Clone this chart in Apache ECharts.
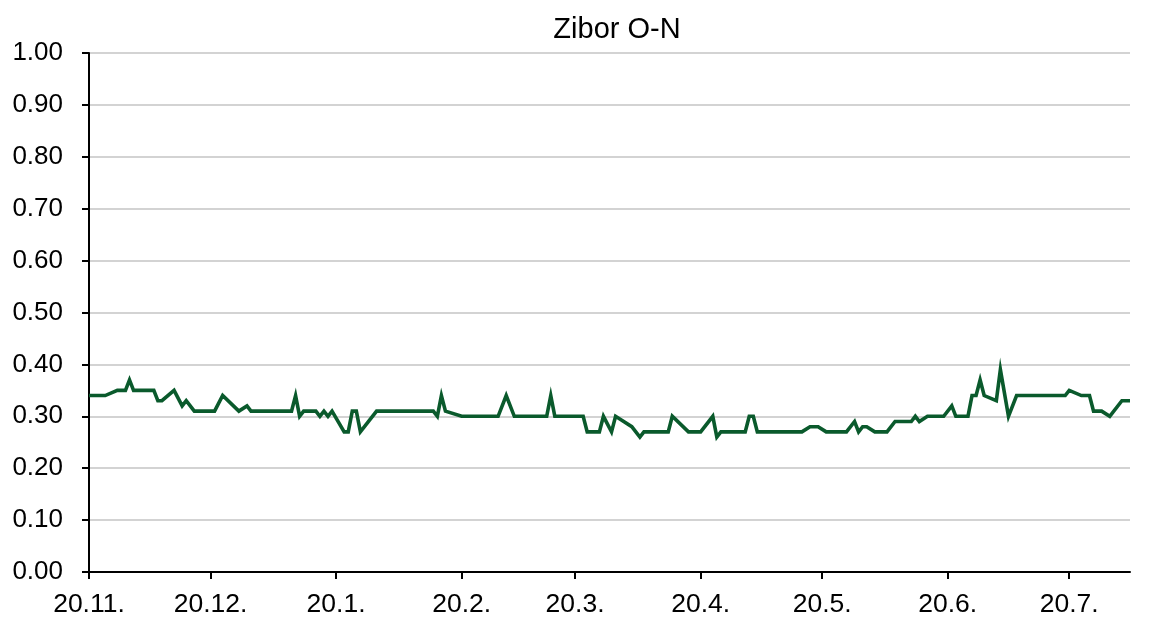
<!DOCTYPE html>
<html><head><meta charset="utf-8">
<script src="https://cdn.jsdelivr.net/npm/echarts@6/dist/echarts.min.js"></script>
<style>html,body{margin:0;padding:0;background:#fff}#c{width:1150px;height:623px}</style>
</head><body><div id="c"></div>
<script>
const chartTitle = 'Zibor O-N';
const dates = [
'2018-11-20','2018-11-24','2018-11-27','2018-11-29','2018-11-30','2018-12-01','2018-12-06','2018-12-07','2018-12-08','2018-12-11',
'2018-12-13','2018-12-14','2018-12-16','2018-12-21','2018-12-23','2018-12-27','2018-12-29','2018-12-30','2019-01-09','2019-01-10',
'2019-01-11','2019-01-12','2019-01-15','2019-01-16','2019-01-17','2019-01-18','2019-01-19','2019-01-22','2019-01-23','2019-01-24',
'2019-01-25','2019-01-26','2019-01-30','2019-02-13','2019-02-14','2019-02-15','2019-02-16','2019-02-20','2019-03-01','2019-03-03',
'2019-03-05','2019-03-13','2019-03-14','2019-03-15','2019-03-22','2019-03-23','2019-03-26','2019-03-27','2019-03-29','2019-03-30',
'2019-04-03','2019-04-05','2019-04-06','2019-04-12','2019-04-13','2019-04-17','2019-04-20','2019-04-23','2019-04-24','2019-04-25',
'2019-05-01','2019-05-02','2019-05-03','2019-05-04','2019-05-15','2019-05-17','2019-05-19','2019-05-21','2019-05-26','2019-05-28',
'2019-05-29','2019-05-30','2019-05-31','2019-06-02','2019-06-05','2019-06-07','2019-06-11','2019-06-12','2019-06-13','2019-06-15',
'2019-06-19','2019-06-21','2019-06-22','2019-06-25','2019-06-26','2019-06-27','2019-06-28','2019-06-29','2019-07-02','2019-07-03',
'2019-07-05','2019-07-07','2019-07-19','2019-07-20','2019-07-23','2019-07-25','2019-07-26','2019-07-28','2019-07-30','2019-08-02',
'2019-08-04'
];
const values = [
0.34,0.34,0.35,0.35,0.37,0.35,0.35,0.33,0.33,0.35,
0.32,0.33,0.31,0.31,0.34,0.31,0.32,0.31,0.31,0.34,
0.30,0.31,0.31,0.30,0.31,0.30,0.31,0.27,0.27,0.31,
0.31,0.27,0.31,0.31,0.30,0.34,0.31,0.30,0.30,0.34,
0.30,0.30,0.34,0.30,0.30,0.27,0.27,0.30,0.27,0.30,
0.28,0.26,0.27,0.27,0.30,0.27,0.27,0.30,0.26,0.27,
0.27,0.30,0.30,0.27,0.27,0.28,0.28,0.27,0.27,0.29,
0.27,0.28,0.28,0.27,0.27,0.29,0.29,0.30,0.29,0.30,
0.30,0.32,0.30,0.30,0.34,0.34,0.37,0.34,0.33,0.39,
0.30,0.34,0.34,0.35,0.34,0.34,0.31,0.31,0.30,0.33,
0.33
];
const tickDates = ['2018-11-20','2018-12-20','2019-01-20','2019-02-20','2019-03-20','2019-04-20','2019-05-20','2019-06-20','2019-07-20'];
const axisStart = '2018-11-20';
const axisEnd = '2019-08-04';

const toTs = s => { const p = s.split('-').map(Number); return new Date(p[0], p[1]-1, p[2]).getTime(); };
const seriesData = dates.map((d, i) => [toTs(d), values[i]]);
const tickTs = tickDates.map(toTs);
const font = 'Liberation Sans, Arial, sans-serif';

const chart = echarts.init(document.getElementById('c'), null, {renderer: 'canvas'});
chart.setOption({
  animation: false,
  backgroundColor: '#ffffff',
  title: {
    text: chartTitle, left: 612, top: 10, textAlign: 'center',
    textStyle: {fontFamily: font, fontSize: 29, fontWeight: 'normal', color: '#000'}
  },
  grid: {left: 89, right: 20, top: 53, bottom: 51, containLabel: false},
  xAxis: {
    type: 'value', min: toTs(axisStart), max: toTs(axisEnd), scale: true,
    axisLine: {lineStyle: {color: '#000', width: 2}},
    axisTick: {show: true, length: 7, lineStyle: {color: '#000', width: 2}, customValues: tickTs},
    axisLabel: {
      customValues: tickTs, margin: 19, color: '#000', fontFamily: font, fontSize: 26.5,
      formatter: v => { const d = new Date(v); return d.getDate() + '.' + (d.getMonth() + 1) + '.'; }
    },
    splitLine: {show: false}
  },
  yAxis: {
    type: 'value', min: 0, max: 1, interval: 0.1,
    axisLine: {show: true, lineStyle: {color: '#000', width: 2}},
    axisTick: {show: true, length: 7, lineStyle: {color: '#000', width: 2}},
    axisLabel: {margin: 26, color: '#000', fontFamily: font, fontSize: 26, formatter: v => v.toFixed(2)},
    splitLine: {show: true, lineStyle: {color: '#c4c4c4', width: 1.5}}
  },
  series: [{
    type: 'line', data: seriesData, showSymbol: false, symbol: 'none',
    lineStyle: {color: '#0a5a2c', width: 3.6, join: 'miter'}
  }]
});
</script></body></html>
